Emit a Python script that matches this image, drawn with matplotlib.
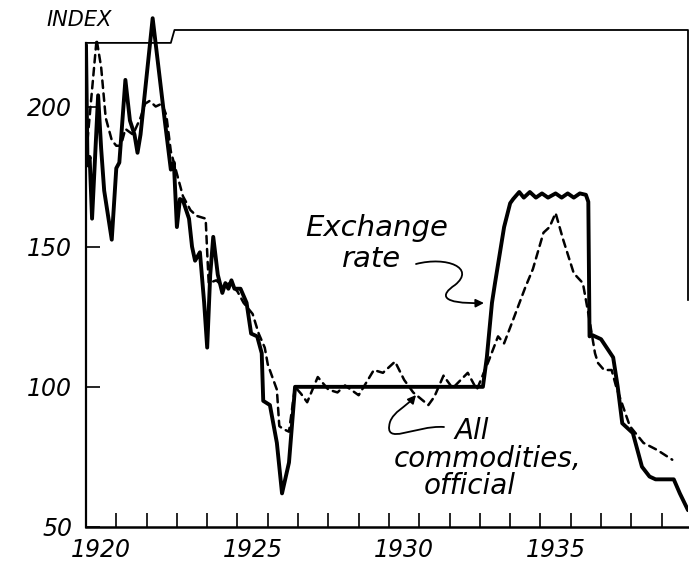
import matplotlib
matplotlib.use("Agg")
import matplotlib.pyplot as plt
from matplotlib.path import Path
from matplotlib.patches import FancyArrowPatch

# ---------------- data ----------------
ex_years = [1920.0, 1920.05, 1920.12, 1920.2, 1920.4, 1920.5, 1920.6, 1920.85, 1921.0, 1921.1,
            1921.3, 1921.45, 1921.6, 1921.7, 1921.8, 1922.2, 1922.6, 1922.8, 1922.9, 1923.0,
            1923.1, 1923.2, 1923.4, 1923.5, 1923.6, 1923.76, 1923.9, 1924.0, 1924.1, 1924.2,
            1924.35, 1924.5, 1924.6, 1924.7, 1924.8, 1924.9, 1925.1, 1925.3, 1925.45, 1925.65,
            1925.8, 1925.85, 1926.07, 1926.3, 1926.47, 1926.7, 1926.9, 1927.0, 1929.0, 1931.0,
            1933.1, 1933.23, 1933.4, 1933.5, 1933.8, 1934.0, 1934.1, 1934.3, 1934.45, 1934.65,
            1934.85, 1935.05, 1935.25, 1935.5, 1935.7, 1935.9, 1936.1, 1936.3, 1936.5, 1936.58,
            1936.62, 1936.7, 1937.0, 1937.4, 1937.55, 1937.7, 1938.05, 1938.35, 1938.6, 1938.8,
            1939.4, 1939.6, 1939.87]
ex_vals = [222, 179, 182, 160, 204, 185, 170, 152.5, 178, 180,
           209.5, 195, 190, 183.5, 190, 231.5, 195, 177.5, 180, 157,
           167, 166.5, 160, 150, 145, 148, 130, 114, 140, 153.5,
           140, 133.5, 137, 135, 138, 135, 135, 130, 119, 118,
           112, 95, 93.5, 80, 62, 73, 100, 100, 100, 100,
           100, 110.5, 130, 137, 157, 165.5, 167, 169.5, 167.5, 169.5,
           167.5, 169, 167.5, 169, 167.5, 169, 167.5, 169, 168.5, 166,
           118, 118.5, 117, 110.5, 100, 87, 83.5, 71.5, 68, 67,
           67, 62, 56]

cm_years = [1920.05, 1920.15, 1920.35, 1920.5, 1920.65, 1920.85, 1921.0, 1921.15, 1921.3, 1921.55,
            1921.8, 1921.95, 1922.1, 1922.3, 1922.5, 1922.65, 1922.8, 1923.0, 1923.2, 1923.45,
            1923.65, 1923.95, 1924.0, 1924.05, 1924.3, 1924.5, 1924.75, 1925.0, 1925.2, 1925.5,
            1925.7, 1925.9, 1926.0, 1926.2, 1926.3, 1926.38, 1926.5, 1926.7, 1926.9, 1927.1,
            1927.3, 1927.65, 1928.0, 1928.3, 1928.55, 1929.0, 1929.5, 1929.8, 1930.2, 1930.5,
            1930.8, 1931.3, 1931.5, 1931.8, 1932.1, 1932.6, 1932.9, 1933.3, 1933.6, 1933.8,
            1934.1, 1934.5, 1934.75, 1935.1, 1935.3, 1935.5, 1935.75, 1936.1, 1936.4, 1936.6,
            1936.8, 1936.9, 1937.1, 1937.35, 1937.5, 1937.95, 1938.4, 1938.85, 1939.35]
cm_vals = [188, 200, 224, 214, 196, 188, 186, 186, 192, 190,
           196, 201, 202, 200, 201, 197, 184, 176, 168, 163,
           161, 160, 148, 137, 138, 136, 137, 134, 130, 126,
           119, 114, 108, 102, 99, 86, 85, 84, 100, 97.5,
           94.5, 103.5, 99, 98, 100.5, 97, 106, 105, 109, 102.5,
           98, 93.5, 96.5, 104, 99.5, 105, 99, 109.5, 118, 115.5,
           124, 135.5, 142, 155, 157, 162, 152.5, 140.5, 137, 125,
           112, 108.5, 106, 106, 100, 86, 80, 77.5, 74]

y_ticks = [50, 100, 150, 200]
year_ticks = list(range(1920, 1940))
year_labels = ["1920", "1925", "1930", "1935"]
label_positions = [1920.5, 1925.5, 1930.5, 1935.5]

# frame decoration levels (hand-drawn box)
frame_low_top = 222.7
frame_high_top = 227.3
frame_step_year = 1922.9
frame_right_bottom = 131

# ---------------- figure ----------------
W, H = 689, 562
fig = plt.figure(figsize=(W / 100, H / 100), dpi=100)
ax = fig.add_axes([86 / W, 35 / H, 602 / W, 527 / H])
ax.set_xlim(1920, 1939.87)
ax.set_ylim(50, 238.0)

FONT = dict(family="DejaVu Sans", style="oblique")

ax.plot(cm_years, cm_vals, color="black", lw=1.8, dashes=(3, 2.2),
        solid_capstyle="round", dash_capstyle="round", zorder=3)
ax.plot(ex_years, ex_vals, color="black", lw=2.8, solid_joinstyle="round",
        solid_capstyle="round", zorder=4)

# spines / frame
for s in ["top", "right"]:
    ax.spines[s].set_visible(False)
ax.spines["left"].set_bounds(50, frame_low_top)
ax.spines["left"].set_linewidth(1.6)
ax.spines["bottom"].set_linewidth(1.8)
ax.plot([1920, frame_step_year - 0.1, frame_step_year - 0.1, frame_step_year + 0.02, 1939.87, 1939.87],
        [frame_low_top, frame_low_top, frame_low_top, frame_high_top, frame_high_top, frame_right_bottom],
        color="black", lw=1.3, clip_on=False, zorder=2)

# ticks
ax.set_yticks(y_ticks)
ax.set_yticklabels([str(v) for v in y_ticks], fontsize=17, **FONT)
ax.tick_params(axis="y", direction="in", length=10, width=1.2, pad=10)
ax.set_xticks(year_ticks)
ax.set_xticklabels([""] * len(year_ticks))
ax.tick_params(axis="x", which="major", direction="in", length=10, width=1.2)
ax.set_xticks(label_positions, minor=True)
ax.set_xticklabels(year_labels, minor=True, fontsize=17, **FONT)
ax.tick_params(axis="x", which="minor", length=0, pad=8)

def P(x, y):
    """reference pixel -> data coordinates"""
    return tuple(ax.transData.inverted().transform((x, H - y)))

fig.canvas.draw()

fig.text(79 / W, 1 - 20 / H, "INDEX", ha="center", va="center", fontsize=15, **FONT)

ax.text(*P(377, 228), "Exchange", ha="center", va="center", fontsize=21, **FONT)
ax.text(*P(372, 259), "rate", ha="center", va="center", fontsize=21, **FONT)
ax.text(*P(472, 431), "All", ha="center", va="center", fontsize=20, **FONT)
ax.text(*P(488, 459), "commodities,", ha="center", va="center", fontsize=20, **FONT)
ax.text(*P(470, 486), "official", ha="center", va="center", fontsize=20, **FONT)

# leader arrows
p1 = Path([P(416, 264), P(447, 256), P(476, 268), P(455, 285),
           P(440, 295), P(440, 304), P(484, 303)],
          [Path.MOVETO, Path.CURVE4, Path.CURVE4, Path.CURVE4,
           Path.CURVE4, Path.CURVE4, Path.CURVE4])
ax.add_patch(FancyArrowPatch(path=p1, arrowstyle="-|>", mutation_scale=12,
                             color="black", lw=1.3, zorder=5))
p2 = Path([P(444, 427), P(415, 425), P(383, 447), P(390, 422),
           P(394, 411), P(405, 408), P(416, 395)],
          [Path.MOVETO, Path.CURVE4, Path.CURVE4, Path.CURVE4,
           Path.CURVE4, Path.CURVE4, Path.CURVE4])
ax.add_patch(FancyArrowPatch(path=p2, arrowstyle="-|>", mutation_scale=12,
                             color="black", lw=1.3, zorder=5))

fig.savefig("out.png", dpi=100)
